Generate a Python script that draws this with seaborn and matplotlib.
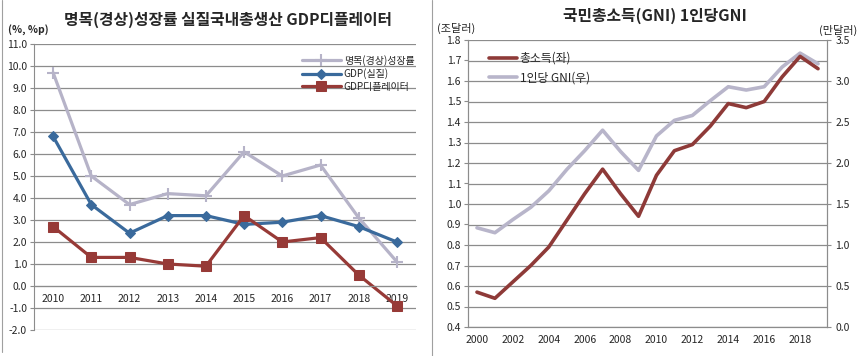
import numpy as np
import pandas as pd
import matplotlib
matplotlib.use('Agg')
import matplotlib.pyplot as plt
from matplotlib.lines import Line2D
from matplotlib.ticker import MultipleLocator, FormatStrFormatter
import seaborn as sns

sns.set_style('white')
plt.rcParams['font.family'] = ['Noto Sans CJK KR', 'DejaVu Sans']
plt.rcParams['axes.unicode_minus'] = False

# 왼쪽 차트 데이터
years_l = [2010, 2011, 2012, 2013, 2014, 2015, 2016, 2017, 2018, 2019]
nominal = [9.7, 5.0, 3.7, 4.2, 4.1, 6.1, 5.0, 5.5, 3.1, 1.1]
real_gdp = [6.8, 3.7, 2.4, 3.2, 3.2, 2.8, 2.9, 3.2, 2.7, 2.0]
deflator = [2.7, 1.3, 1.3, 1.0, 0.9, 3.2, 2.0, 2.2, 0.5, -0.9]

# 오른쪽 차트 데이터
years_r = list(range(2000, 2020))
gni_total = [0.57, 0.54, 0.62, 0.70, 0.79, 0.92, 1.05, 1.17, 1.05, 0.94,
             1.14, 1.26, 1.29, 1.38, 1.49, 1.47, 1.50, 1.62, 1.72, 1.66]
gni_per_capita = [1.21, 1.15, 1.31, 1.46, 1.66, 1.92, 2.15, 2.40, 2.14, 1.91,
                  2.33, 2.52, 2.58, 2.76, 2.93, 2.89, 2.93, 3.17, 3.34, 3.21]

c_nom = '#B6B3C8'
c_real = '#3A6A9C'
c_defl = '#973A37'
c_total = '#8E3A38'
c_pc = '#B8B5CA'
grid_c = '#8C8C8C'

fig = plt.figure(figsize=(8.63, 3.56), dpi=100)

# ---------- 왼쪽 ----------
ax = fig.add_axes([34 / 863, 26 / 356, 382 / 863, 286 / 356])
df_l = pd.DataFrame({'year': years_l, 'nom': nominal, 'real': real_gdp, 'defl': deflator})
sns.lineplot(data=df_l, x='year', y='nom', ax=ax, color=c_nom, lw=2.3, marker='+',
             markersize=8, markeredgewidth=1.5, markeredgecolor=c_nom, label='명목(경상)성장률')
sns.lineplot(data=df_l, x='year', y='real', ax=ax, color=c_real, lw=2.3, marker='D',
             markersize=5, markeredgecolor=c_real, label='GDP(실질)')
sns.lineplot(data=df_l, x='year', y='defl', ax=ax, color=c_defl, lw=2.3, marker='s',
             markersize=7, markeredgecolor=c_defl, label='GDP디플레이터')

ax.set_xlim(2009.5, 2019.5)
ax.set_ylim(-2, 11)
ax.yaxis.set_major_locator(MultipleLocator(1))
ax.yaxis.set_major_formatter(FormatStrFormatter('%.1f'))
ax.set_xticks(years_l)
ax.set_xticks(np.arange(2009.5, 2020, 1), minor=True)
ax.grid(axis='y', color=grid_c, lw=0.9)
ax.set_axisbelow(True)
for s in ['top', 'right']:
    ax.spines[s].set_visible(False)
ax.spines['bottom'].set_position(('data', 0))
ax.spines['bottom'].set_color(grid_c)
ax.spines['left'].set_color(grid_c)
ax.tick_params(axis='x', which='major', length=0, pad=6, labelsize=7.5)
ax.tick_params(axis='x', which='minor', length=3, direction='in', color=grid_c)
ax.tick_params(axis='y', length=3, color=grid_c, labelsize=7.5, pad=2, left=True)
ax.set_xlabel('')
ax.set_ylabel('')
ax.legend(loc='upper left', bbox_to_anchor=(0.69, 0.975), frameon=False, fontsize=7.2,
          handlelength=3.9, handletextpad=0.3, labelspacing=0.25, borderaxespad=0)

fig.text(228 / 863, 1 - 20 / 356, '명목(경상)성장률 실질국내총생산 GDP디플레이터',
         ha='center', va='center', fontsize=11.4, fontweight='bold')
fig.text(8 / 863, 1 - 30 / 356, '(%, %p)', ha='left', va='center', fontsize=7.5, fontweight='bold')

# ---------- 오른쪽 ----------
axr = fig.add_axes([468 / 863, 29 / 356, 359 / 863, 287 / 356])
axr2 = axr.twinx()
df_r = pd.DataFrame({'year': years_r, 'total': gni_total, 'pc': gni_per_capita})

sns.lineplot(data=df_r, x='year', y='pc', ax=axr2, color=c_pc, lw=2.6, legend=False)
sns.lineplot(data=df_r, x='year', y='total', ax=axr, color=c_total, lw=2.6, legend=False)

# 총소득 선이 앞에 오도록
axr.set_zorder(axr2.get_zorder() + 1)
axr.patch.set_visible(False)

axr.set_xlim(1999.5, 2019.5)
axr.set_ylim(0.4, 1.8)
axr2.set_ylim(0, 3.5)
axr.yaxis.set_major_locator(MultipleLocator(0.1))
axr.yaxis.set_major_formatter(FormatStrFormatter('%.1f'))
axr2.yaxis.set_major_locator(MultipleLocator(0.5))
axr2.yaxis.set_minor_locator(MultipleLocator(0.25))
axr2.yaxis.set_major_formatter(FormatStrFormatter('%.1f'))
axr2.grid(axis='y', which='both', color=grid_c, lw=0.9)
axr2.set_axisbelow(True)

axr.set_xticks(years_r[::2])
axr.set_xticks(np.arange(1999.5, 2020, 1), minor=True)
axr.tick_params(axis='x', which='major', length=0, pad=6, labelsize=7.5)
axr.tick_params(axis='x', which='minor', length=3, direction='in', color=grid_c)
axr.tick_params(axis='y', length=3, color=grid_c, labelsize=7.5, pad=2, left=True)
axr2.tick_params(axis='y', which='major', length=3, color=grid_c, labelsize=7.5, pad=3, right=True)
axr2.tick_params(axis='y', which='minor', length=0)
for a in [axr, axr2]:
    a.spines['top'].set_visible(False)
    for s in ['left', 'right', 'bottom']:
        a.spines[s].set_color(grid_c)
    a.set_xlabel('')
    a.set_ylabel('')

handles = [Line2D([], [], color=c_total, lw=2.6), Line2D([], [], color=c_pc, lw=2.6)]
axr.legend(handles, ['총소득(좌)', '1인당 GNI(우)'], loc='upper left', bbox_to_anchor=(0.045, 0.975),
           frameon=False, fontsize=8.5, handlelength=2.4, handletextpad=0.2, labelspacing=0.55,
           borderaxespad=0)

fig.text(655 / 863, 1 - 16 / 356, '국민총소득(GNI) 1인당GNI', ha='center', va='center',
         fontsize=11.4, fontweight='bold')
fig.text(437 / 863, 1 - 28 / 356, '(조달러)', ha='left', va='center', fontsize=8)
fig.text(857 / 863, 1 - 30 / 356, '(만달러)', ha='right', va='center', fontsize=8)

# 차트 테두리
fig.add_artist(Line2D([2 / 863, 2 / 863], [0.01, 1], color='#A0A0A0', lw=0.8))
fig.add_artist(Line2D([432 / 863, 432 / 863], [0, 1], color='#A0A0A0', lw=0.8))

fig.savefig('out.png', dpi=100)
